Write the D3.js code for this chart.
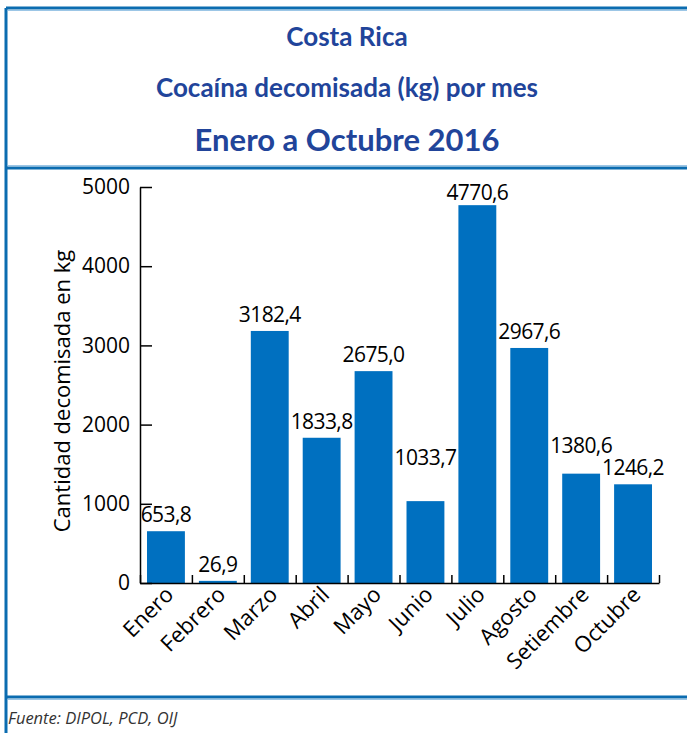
<!DOCTYPE html>
<html>
<head>
<meta charset="utf-8">
<script src="https://cdn.jsdelivr.net/npm/d3@7"></script>
<style>
  body { margin: 0; background: #fff; }
  svg { display: block; }
</style>
</head>
<body>
<div id="chart"></div>
<script>
const months = ["Enero", "Febrero", "Marzo", "Abril", "Mayo", "Junio", "Julio", "Agosto", "Setiembre", "Octubre"];
const kilos = [653.8, 26.9, 3182.4, 1833.8, 2675.0, 1033.7, 4770.6, 2967.6, 1380.6, 1246.2];
const yTicks = [0, 1000, 2000, 3000, 4000, 5000];
const titles = ["Costa Rica", "Cocaína decomisada (kg) por mes", "Enero a Octubre 2016"];
const yTitle = "Cantidad decomisada en kg";
const source = "Fuente: DIPOL, PCD, OIJ";

const W = 687, H = 733;
const frame = "#0b6cb0", frameLight = "#9cc6e6";
const titleColor = "#21449a";
const barColor = "#0070c0";
const font = "'Open Sans', 'Noto Sans', sans-serif";
const pad = { t: 187, b: 583, s: 140, e: 659 };
// labels lifted a bit more where they would collide, as in the original
const labelLift = { Junio: 27, Setiembre: 12 };

const svg = d3.select("#chart").append("svg").attr("width", W).attr("height", H);

// frame
const lines = [
  { x1: 6, y1: 8, x2: W, y2: 8 },
  { x1: 6, y1: 8, x2: 6, y2: H },
  { x1: 6, y1: 168, x2: W, y2: 168 },
  { x1: 6, y1: 697, x2: W, y2: 697 }
];
svg.append("g").selectAll("line").data(lines).enter().append("line")
  .attr("x1", (d) => d.x1).attr("x2", (d) => d.x2).attr("y1", (d) => d.y1).attr("y2", (d) => d.y2)
  .attr("stroke", frame).attr("stroke-width", 3);
svg.append("line").attr("x1", 8).attr("x2", W).attr("y1", 10.5).attr("y2", 10.5).attr("stroke", frameLight).attr("stroke-width", 1);
svg.append("line").attr("x1", 8).attr("x2", W).attr("y1", 165.5).attr("y2", 165.5).attr("stroke", frameLight).attr("stroke-width", 1);
svg.append("line").attr("x1", 8).attr("x2", W).attr("y1", 699.5).attr("y2", 699.5).attr("stroke", frameLight).attr("stroke-width", 1);

// titles
const titleOpt = [
  { y: 46, size: 26 },
  { y: 97, size: 26 },
  { y: 151, size: 31 }
];
svg.append("g").selectAll("text").data(titles).enter().append("text")
  .text((d) => d)
  .attr("x", 347)
  .attr("y", (d, i) => titleOpt[i].y)
  .attr("font-size", (d, i) => titleOpt[i].size)
  .attr("text-anchor", "middle")
  .attr("font-family", "Lato, 'Noto Sans', sans-serif")
  .attr("font-weight", "bold")
  .attr("fill", titleColor);

// scales
const x = d3.scaleBand().domain(months).range([pad.s, pad.e]).paddingInner(0.27).paddingOuter(0.135);
const xEdge = d3.scaleLinear().domain([0, months.length]).range([pad.s, pad.e]);
const y = d3.scaleLinear().domain([0, 5000]).range([pad.b, pad.t]);

// bars
svg.append("g").selectAll("rect").data(kilos).enter().append("rect")
  .attr("x", (d, i) => x(months[i]))
  .attr("width", x.bandwidth())
  .attr("y", (d) => y(d))
  .attr("height", (d) => y(0) - y(d))
  .attr("fill", barColor);

// value labels
const fmt = (v) => d3.format(".1f")(v).replace(".", ",");
svg.append("g").selectAll("text").data(kilos).enter().append("text")
  .text((d) => fmt(d))
  .attr("x", (d, i) => x(months[i]) + x.bandwidth() / 2)
  .attr("y", (d, i) => Math.max(y(d) - 9 - (labelLift[months[i]] || 0), 200))
  .attr("text-anchor", "middle")
  .attr("font-family", font)
  .attr("font-size", 21)
  .attr("letter-spacing", -0.6)
  .attr("fill", "#000");

// y axis
const yAxis = svg.append("g").attr("transform", `translate(${pad.s}, 0)`)
  .call(d3.axisLeft(y).tickValues(yTicks).tickSizeInner(-12).tickSizeOuter(0).tickPadding(10).tickFormat(d3.format("d")));
yAxis.selectAll("text").attr("font-family", font).attr("font-size", 21).attr("fill", "#000");
yAxis.selectAll("line, path").attr("stroke", "#000").attr("stroke-width", 1.5);

// x axis: boundary ticks
const xAxis = svg.append("g").attr("transform", `translate(0, ${pad.b})`)
  .call(d3.axisBottom(xEdge).tickValues(d3.range(months.length + 1)).tickSizeInner(-8).tickSizeOuter(0).tickFormat(""));
xAxis.selectAll("line, path").attr("stroke", "#000").attr("stroke-width", 1.5);

// x axis: labels
const xLab = svg.append("g").attr("transform", `translate(0, ${pad.b})`)
  .call(d3.axisBottom(x).tickSize(0).tickPadding(0));
xLab.select(".domain").remove();
xLab.selectAll("text")
  .attr("font-family", font)
  .attr("font-size", 22)
  .attr("fill", "#000")
  .attr("text-anchor", "end")
  .attr("dy", 0)
  .attr("transform", "translate(9, 13) rotate(-45)");

// y title
svg.append("text")
  .text(yTitle)
  .attr("transform", `translate(70, 391) rotate(-90)`)
  .attr("text-anchor", "middle")
  .attr("font-family", font)
  .attr("font-size", 22)
  .attr("fill", "#000");

// source
svg.append("text")
  .text(source)
  .attr("x", 8)
  .attr("y", 724)
  .attr("font-family", font)
  .attr("font-style", "italic")
  .attr("font-size", 16.5)
  .attr("fill", "#333");
</script>
</body>
</html>
